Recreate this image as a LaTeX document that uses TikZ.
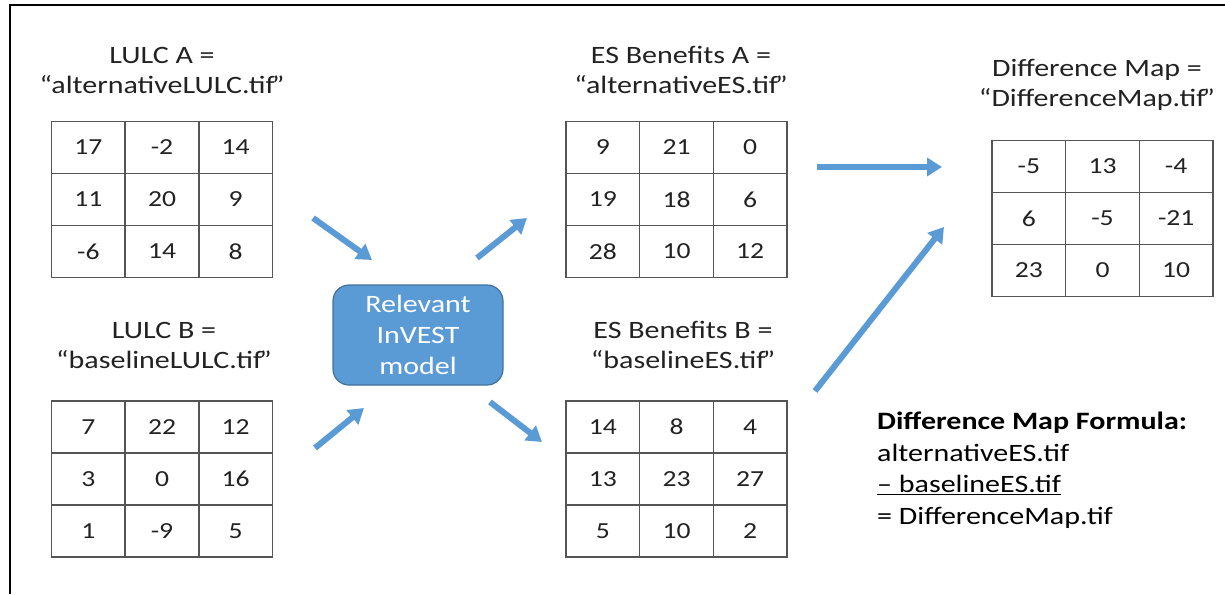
\documentclass[tikz,border=0pt]{standalone}
\usepackage{fontspec}
\setmainfont[FakeStretch=1.2]{Carlito}
\usetikzlibrary{arrows.meta,matrix}
\definecolor{arrowblue}{HTML}{5B9BD5}
\definecolor{boxedge}{HTML}{41719C}
\definecolor{gridgray}{HTML}{555555}
\definecolor{txt}{HTML}{222222}
\newcommand{\cq}{\kern-3pt”}
\tikzset{
  cellgrid/.style={matrix of nodes, inner sep=0pt,
    column sep=-1.5pt, row sep=-1.5pt,
    nodes={draw=gridgray, line width=1.5pt, minimum width=73.7pt, minimum height=52pt,
      inner sep=0pt, anchor=center, font=\fontsize{23}{26}\selectfont, text=txt}},
  titletext/.style={align=center, font=\fontsize{25}{30}\selectfont, text=txt, inner sep=0pt},
  bluearrow/.style={draw=arrowblue, line width=6pt,
    -{Triangle[length=15pt,width=18pt]}},
  modelbox/.style={draw=boxedge, line width=1.2pt, fill=arrowblue, rounded corners=16pt,
    minimum width=170pt, minimum height=100pt, align=center, text=white,
    font=\fontsize{25}{31}\selectfont},
}
\begin{document}
\begin{tikzpicture}[x=1pt,y=-1pt]
\useasboundingbox (0,0) rectangle (1225,594);
\coordinate (fbl) at (10,594);
\coordinate (ftl) at (10,5);
\coordinate (ftr) at (1225,5);
\draw[line width=2pt] (fbl) -- (ftl) -- (ftr);

% titles
\node[titletext] (tA) at (162,70) {LULC A =\\“alternativeLULC.tif\cq};
\node[titletext] (tB) at (164,345) {LULC B =\\“baselineLULC.tif\cq};
\node[titletext] (tEA) at (681,70) {ES Benefits A =\\“alternativeES.tif\cq};
\node[titletext] (tEB) at (683,345) {ES Benefits B =\\“baselineES.tif\cq};
\node[titletext] (tD) at (1097,85) {Difference Map =\\“DifferenceMap.tif\cq};

% grids
\matrix[cellgrid] (gA) at (162,199.5) {
 17 & -2 & 14 \\ 11 & 20 & 9 \\ -6 & 14 & 8 \\};
\matrix[cellgrid] (gB) at (162,479) {
 7 & 22 & 12 \\ 3 & 0 & 16 \\ 1 & -9 & 5 \\};
\matrix[cellgrid] (gEA) at (676.5,199.5) {
 9 & 21 & 0 \\ 19 & 18 & 6 \\ 28 & 10 & 12 \\};
\matrix[cellgrid] (gEB) at (676.5,479) {
 14 & 8 & 4 \\ 13 & 23 & 27 \\ 5 & 10 & 2 \\};
\matrix[cellgrid] (gD) at (1102.5,218.5) {
 -5 & 13 & -4 \\ 6 & -5 & -21 \\ 23 & 0 & 10 \\};

% model box
\node[modelbox] (model) at (418,335) {Relevant\\InVEST\\model};

% arrows
\coordinate (a1s) at (313,218); \coordinate (a1e) at (372,260);
\coordinate (a2s) at (477,258); \coordinate (a2e) at (527,218);
\coordinate (a3s) at (315,448); \coordinate (a3e) at (364,408);
\coordinate (a4s) at (490,402); \coordinate (a4e) at (542,442);
\coordinate (a5s) at (817,167); \coordinate (a5e) at (942,167);
\coordinate (a6s) at (815,391); \coordinate (a6e) at (944,227);
\draw[bluearrow] (a1s) -- (a1e);
\draw[bluearrow] (a2s) -- (a2e);
\draw[bluearrow] (a3s) -- (a3e);
\draw[bluearrow] (a4s) -- (a4e);
\draw[bluearrow] (a5s) -- (a5e);
\draw[bluearrow] (a6s) -- (a6e);

% formula
\node[anchor=west, align=left, font=\fontsize{25}{31.5}\selectfont, text=black, inner sep=0pt]
  (formula) at (877,470) {\textbf{Difference Map Formula:}\\alternativeES.tif\\\underline{– baselineES.tif}\\= DifferenceMap.tif};
\end{tikzpicture}
\end{document}
